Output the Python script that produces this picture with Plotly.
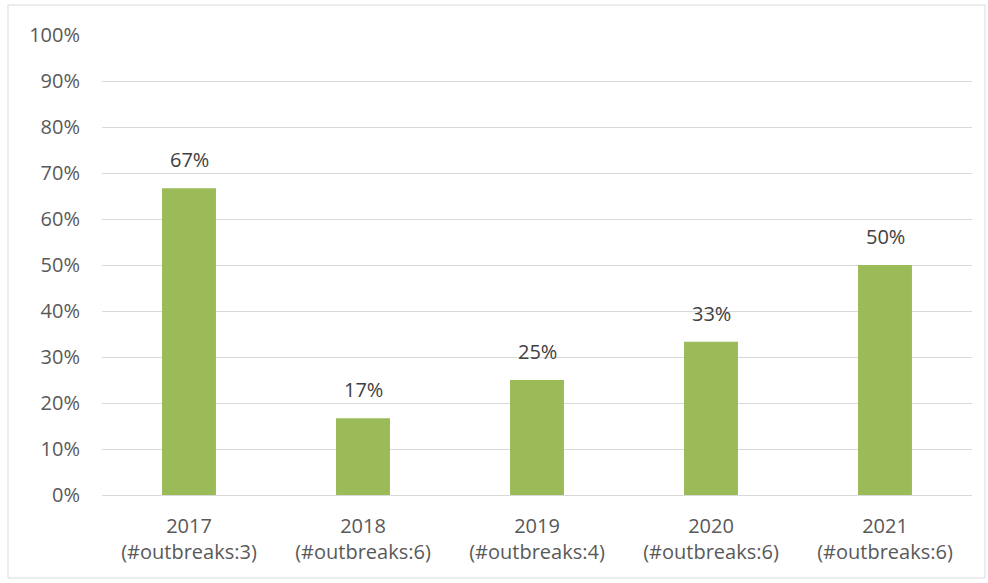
import plotly.graph_objects as go

years = ["2017", "2018", "2019", "2020", "2021"]
outbreaks = [3, 6, 4, 6, 6]
shares = [0.667, 0.167, 0.25, 0.333, 0.50]
labels = ["67%", "17%", "25%", "33%", "50%"]

cats = [f"{y}<br>(#outbreaks:{n})" for y, n in zip(years, outbreaks)]

FONT = "Open Sans, Liberation Sans, sans-serif"
TXT = "#595959"
FS = 20

fig = go.Figure(go.Bar(
    x=cats, y=shares,
    marker=dict(color="#9BBB59", line=dict(width=0)),
    hoverinfo="skip",
))

for c, s, t in zip(cats, shares, labels):
    fig.add_annotation(x=c, y=s, text=t, showarrow=False, yanchor="bottom",
                       yshift=13, font=dict(size=FS, color="#404040", family=FONT))

W, H = 988, 583
L, R, T, B = 102, 16, 35, 88
pw, ph = W - L - R, H - T - B

def px(x):
    return (x - L) / pw

def py(y):
    return (H - B - y) / ph

fig.update_layout(
    width=W, height=H,
    margin=dict(l=L, r=R, t=T, b=B),
    paper_bgcolor="white", plot_bgcolor="white",
    bargap=0.69,
    showlegend=False,
    font=dict(family=FONT, color=TXT, size=FS),
    xaxis=dict(showgrid=False, showline=True, linecolor="#d9d9d9", linewidth=1,
               ticks="", tickfont=dict(size=FS, color=TXT), ticklabelstandoff=13),
    yaxis=dict(range=[0, 1], dtick=0.1, tickformat=".0%", showgrid=True,
               gridcolor="#d9d9d9", gridwidth=1, zeroline=False, showline=False,
               ticks="", tickfont=dict(size=FS, color=TXT), ticklabelstandoff=21),
    shapes=[dict(type="rect", xref="paper", yref="paper",
                 x0=px(8), x1=px(985), y0=py(578), y1=py(5),
                 line=dict(color="#d9d9d9", width=1), layer="below")],
)

fig.write_html("out.html", config={"displayModeBar": False},
               post_script="document.body.style.margin='0';")
